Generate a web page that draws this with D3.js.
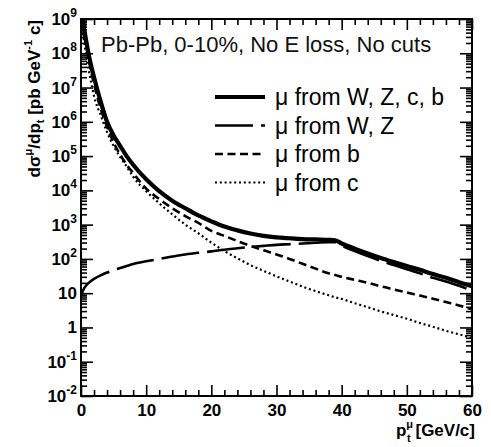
<!DOCTYPE html>
<html lang="en">
<head>
    <meta charset="UTF-8">
    <title>Muon pt spectra, Pb-Pb</title>
    <script src="https://d3js.org/d3.v7.min.js"></script>
    <style>
        body { margin: 0; background: #fff; }
        svg { font-family: "Liberation Sans", Arial, Helvetica, sans-serif; }
        .tick-label { font-size: 17px; font-weight: bold; fill: #000; }
        .axis-title { font-size: 17px; font-weight: bold; fill: #000; }
        .legend-text { font-size: 23px; fill: #000; }
        .note { font-size: 22px; fill: #111; }
    </style>
</head>
<body>
<svg width="491" height="447"></svg>
<script>
    // pt grid [GeV/c] shared by all curves
    const pt = [0, 0.5, 1, 1.5, 2, 3, 4, 5, 6, 7, 8, 10, 12, 14, 16, 18, 20, 22, 24, 26,
                28, 30, 32, 34, 36, 38, 39, 40, 42, 44, 46, 48, 50, 52, 54, 56, 58, 60];

    // dsigma/dpt [pb GeV^-1 c]
    const muTotal = [2.2e9, 5.0e8, 1.4e8, 4.8e7, 2.0e7, 4.0e6, 1.0e6, 4.0e5, 2.0e5, 1.0e5,
                     5.6e4, 2.1e4, 9500, 5000, 3000, 1850, 1250, 880, 680, 550,
                     470, 425, 400, 380, 370, 360, 350, 282, 200, 145, 107, 81, 62, 48, 36, 28, 21, 16];
    const muWZ = [8.9, 14, 18.6, 22.4, 26, 33, 40, 47, 54, 62,
                  71, 85, 100, 117, 135, 151, 166, 186, 204, 224,
                  240, 257, 269, 282, 295, 309, 309, 245, 170, 121, 88, 66, 50, 38, 28, 22, 16.4, 11.9];
    const muB = [1.6e9, 3.5e8, 1.0e8, 3.3e7, 1.26e7, 2.5e6, 7.1e5, 2.5e5, 1.12e5, 5.6e4,
                 3.2e4, 1.12e4, 5600, 3000, 1780, 1120, 660, 470, 330, 240,
                 178, 135, 100, 72, 52, 38, 34, 30, 24.5, 20, 15.8, 12.9, 10.5, 8.5, 6.9, 5.5, 4.4, 3.4];
    const muC = [1.0e9, 2.0e8, 5.0e7, 1.6e7, 5.6e6, 1.6e6, 5.0e5, 2.0e5, 9.5e4, 5.0e4,
                 2.5e4, 9500, 4200, 2000, 1000, 560, 300, 170, 104, 66,
                 45, 31, 22, 15.5, 11.5, 8.7, 7.6, 6.8, 5.1, 3.9, 2.95, 2.3, 1.8, 1.35, 1.05, 0.8, 0.63, 0.49];

    const xMajor = [0, 10, 20, 30, 40, 50, 60];
    const yExponents = [-2, -1, 0, 1, 2, 3, 4, 5, 6, 7, 8, 9];
    const legendLabels = ["μ from W, Z, c, b", "μ from W, Z", "μ from b", "μ from c"];
    const noteText = "Pb-Pb, 0-10%, No E loss, No cuts";

    const plot = { left: 81, right: 472, top: 19, bottom: 396 };

    const svg = d3.select("svg");

    const x = d3.scaleLinear().domain([0, 60]).range([plot.left, plot.right]);
    const y = d3.scaleLog().domain([1e-2, 1e9]).range([plot.bottom, plot.top]);

    // minor tick positions
    const xMinor = d3.range(0, 61, 2).filter(v => v % 10 !== 0);
    const yMinor = [];
    yExponents.slice(0, -1).forEach(e => {
        for (let k = 2; k <= 9; k++) yMinor.push(k * Math.pow(10, e));
    });

    // curves
    svg.append("clipPath").attr("id", "clip")
      .append("rect")
        .attr("x", plot.left).attr("y", plot.top)
        .attr("width", plot.right - plot.left).attr("height", plot.bottom - plot.top);

    const series = [
        { values: muTotal, width: 4.2, dash: null },
        { values: muWZ, width: 2.6, dash: "38,8" },
        { values: muB, width: 2.6, dash: "8,4.5" },
        { values: muC, width: 2.2, dash: "2,2.8" }
    ];

    const line = d3.line()
        .x(d => x(d[0]))
        .y(d => y(d[1]))
        .curve(d3.curveMonotoneX);

    const curves = svg.append("g").attr("clip-path", "url(#clip)");
    series.slice().reverse().forEach(s => {
        curves.append("path")
            .datum(pt.map((p, i) => [p, s.values[i]]))
            .attr("d", line)
            .attr("fill", "none")
            .attr("stroke", "#000")
            .attr("stroke-width", s.width)
            .attr("stroke-dasharray", s.dash);
    });

    // axes, ROOT style: ticks pointing into the frame on all four sides
    function styleAxis(g) {
        g.select(".domain").remove();
        g.selectAll("line").attr("stroke", "#000").attr("stroke-width", 1.6);
    }

    svg.append("g").attr("transform", `translate(0,${plot.bottom})`)
        .call(d3.axisBottom(x).tickValues(xMajor).tickSize(-11).tickPadding(8).tickFormat(d3.format("d")))
        .call(styleAxis)
        .call(g => g.selectAll("text").attr("class", "tick-label").attr("font-family", null).attr("font-size", null));
    svg.append("g").attr("transform", `translate(0,${plot.bottom})`)
        .call(d3.axisBottom(x).tickValues(xMinor).tickSize(-6).tickFormat(""))
        .call(styleAxis);
    svg.append("g").attr("transform", `translate(0,${plot.top})`)
        .call(d3.axisTop(x).tickValues(xMajor).tickSize(-11).tickFormat(""))
        .call(styleAxis);
    svg.append("g").attr("transform", `translate(0,${plot.top})`)
        .call(d3.axisTop(x).tickValues(xMinor).tickSize(-6).tickFormat(""))
        .call(styleAxis);

    const yMajor = yExponents.map(e => Math.pow(10, e));
    svg.append("g").attr("transform", `translate(${plot.left},0)`)
        .call(d3.axisLeft(y).tickValues(yMajor).tickSize(-12).tickFormat(""))
        .call(styleAxis);
    svg.append("g").attr("transform", `translate(${plot.left},0)`)
        .call(d3.axisLeft(y).tickValues(yMinor).tickSize(-6).tickFormat(""))
        .call(styleAxis);
    svg.append("g").attr("transform", `translate(${plot.right},0)`)
        .call(d3.axisRight(y).tickValues(yMajor).tickSize(-12).tickFormat(""))
        .call(styleAxis);
    svg.append("g").attr("transform", `translate(${plot.right},0)`)
        .call(d3.axisRight(y).tickValues(yMinor).tickSize(-6).tickFormat(""))
        .call(styleAxis);

    // y tick labels: 10^n, with "1" and "10" written plainly
    const yLabels = svg.append("g");
    yExponents.forEach(e => {
        const t = yLabels.append("text")
            .attr("class", "tick-label")
            .attr("x", 77)
            .attr("y", y(Math.pow(10, e)) + 6)
            .attr("text-anchor", "end");
        if (e === 0) t.text("1");
        else if (e === 1) t.text("10");
        else {
            t.append("tspan").text("10");
            t.append("tspan").attr("font-size", 12).attr("dy", -8).text(e);
        }
    });

    // frame
    svg.append("rect")
        .attr("x", plot.left).attr("y", plot.top)
        .attr("width", plot.right - plot.left).attr("height", plot.bottom - plot.top)
        .attr("fill", "none").attr("stroke", "#000").attr("stroke-width", 2);

    // axis titles
    const xt = svg.append("text").attr("class", "axis-title")
        .attr("x", 475).attr("y", 436).attr("text-anchor", "end");
    xt.append("tspan").text("p");
    xt.append("tspan").attr("font-size", 11).attr("dy", -8).text("μ");
    xt.append("tspan").attr("font-size", 11).attr("dx", -6).attr("dy", 14).text("t");
    xt.append("tspan").attr("dy", -6).text(" [GeV/c]");

    const yt = svg.append("text").attr("class", "axis-title")
        .attr("transform", "translate(40,20) rotate(-90)")
        .attr("text-anchor", "end");
    yt.append("tspan").text("dσ");
    yt.append("tspan").attr("font-size", 11).attr("dy", -8).text("μ");
    yt.append("tspan").attr("dy", 8).text("/dp");
    yt.append("tspan").attr("font-size", 11).attr("dy", 4).text("t");
    yt.append("tspan").attr("dy", -4).text(" [pb GeV");
    yt.append("tspan").attr("font-size", 11).attr("dy", -8).text("-1");
    yt.append("tspan").attr("dy", 8).text(" c]");

    // header note
    svg.append("text").attr("class", "note")
        .attr("x", 101).attr("y", 52)
        .text(noteText);

    // legend
    const legend = svg.append("g");
    legendLabels.forEach((label, i) => {
        const yy = 97 + i * 28.5;
        const s = series[i];
        legend.append("line")
            .attr("x1", 215).attr("x2", 265)
            .attr("y1", yy).attr("y2", yy)
            .attr("stroke", "#000")
            .attr("stroke-width", s.width)
            .attr("stroke-dasharray", s.dash);
        legend.append("text").attr("class", "legend-text")
            .attr("x", 275).attr("y", yy + 8)
            .text(label);
    });
</script>
</body>
</html>
